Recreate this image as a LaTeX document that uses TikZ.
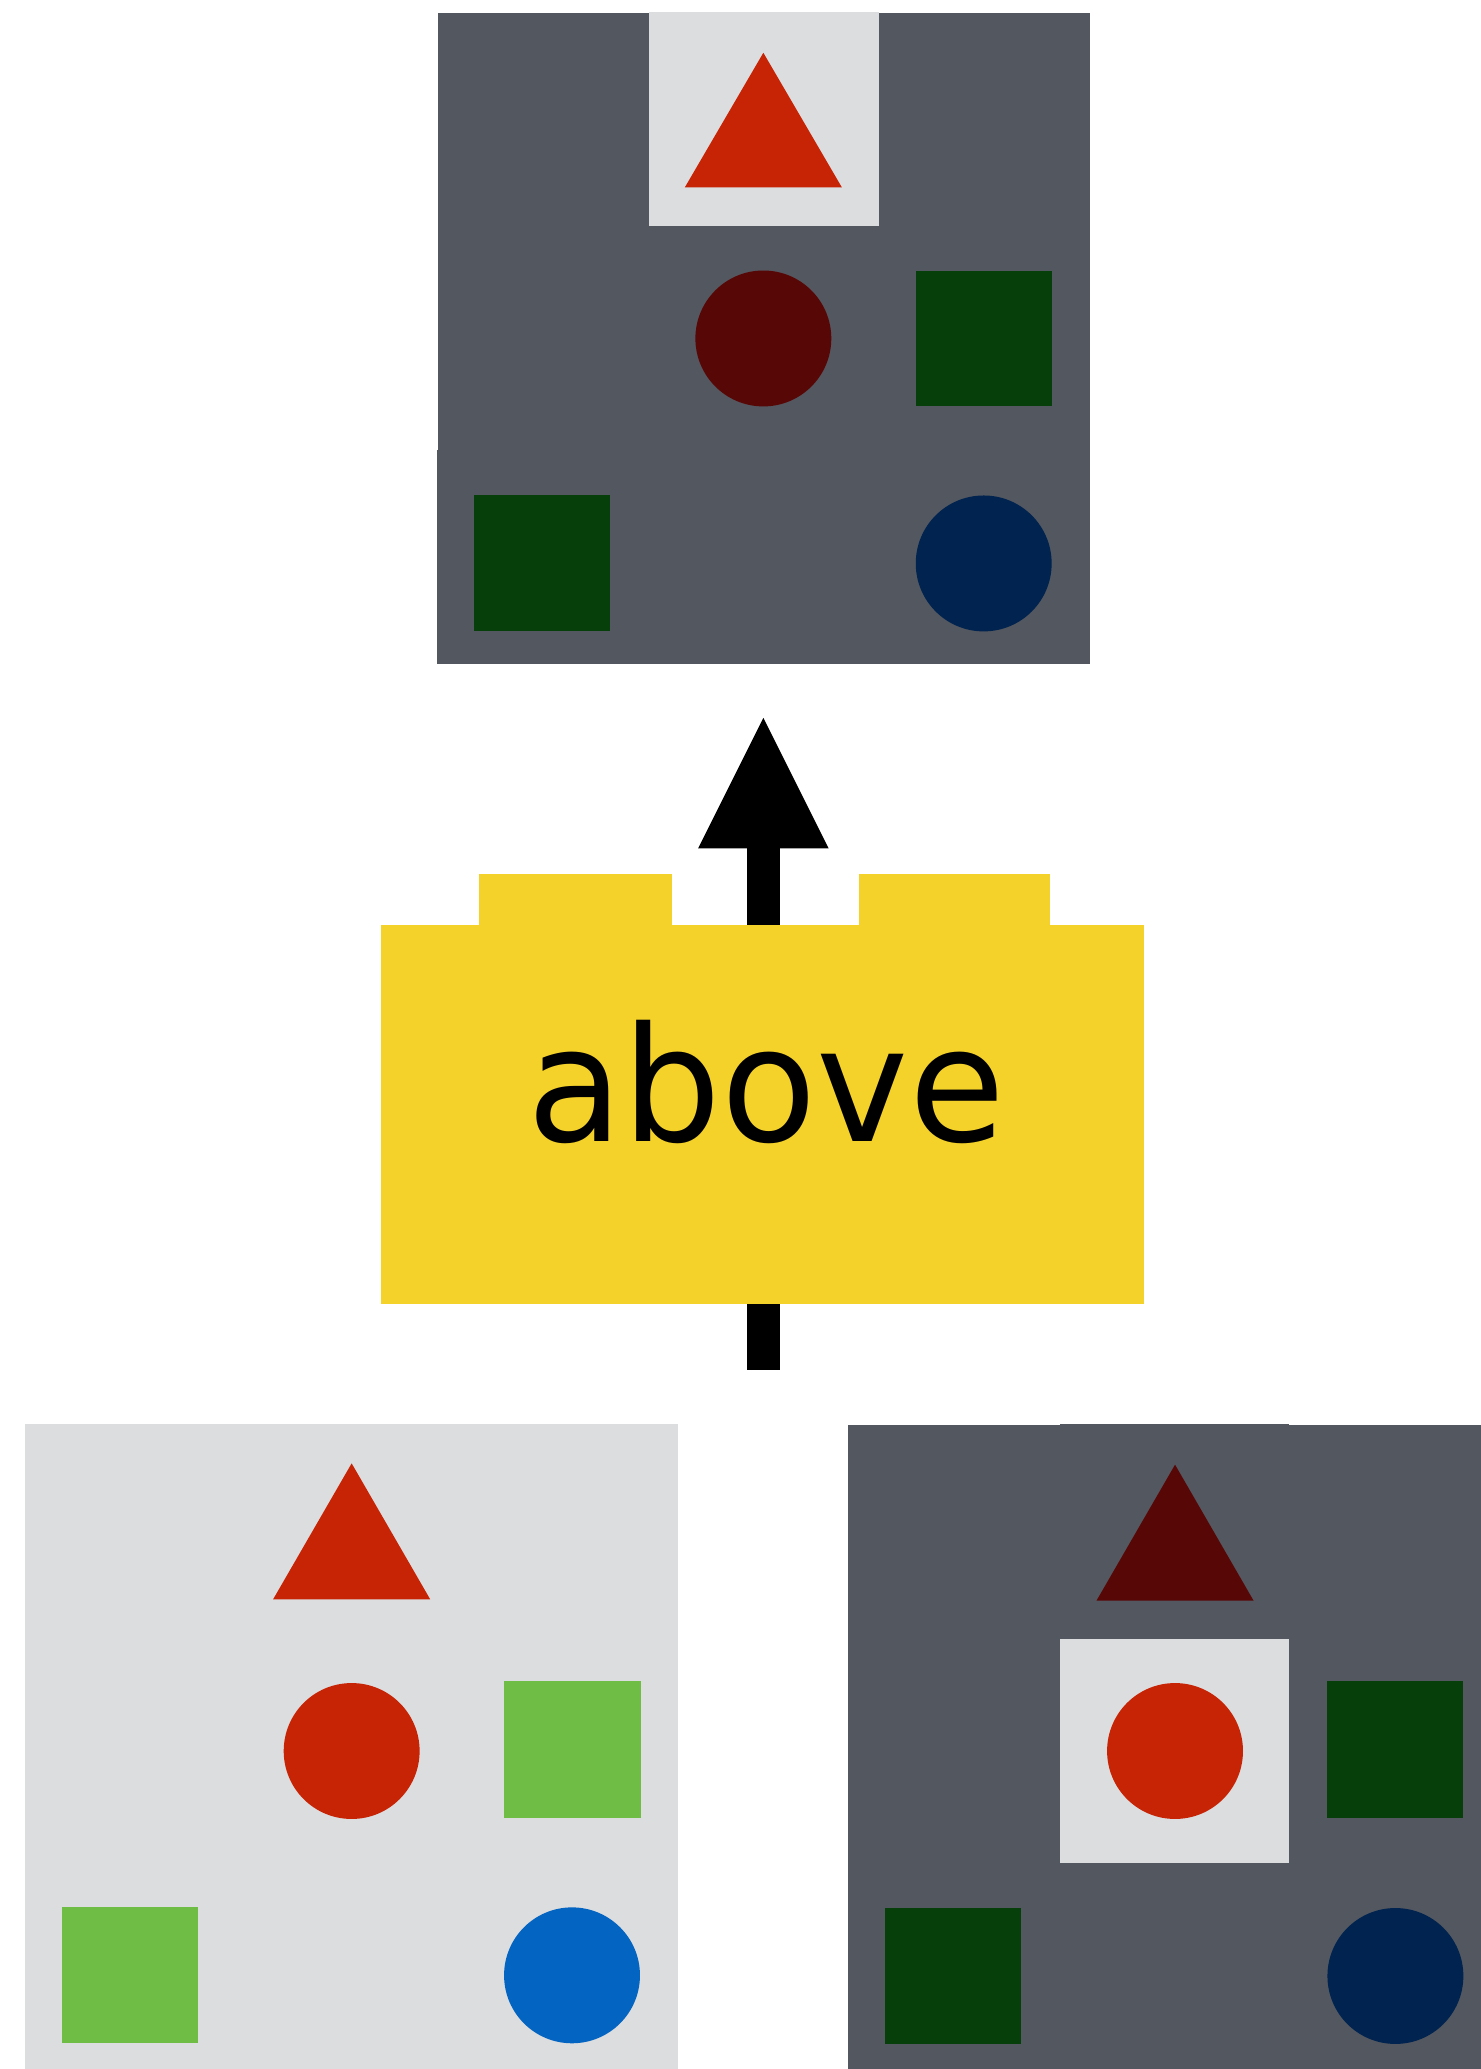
\documentclass[tikz,border=0pt]{standalone}
\usepackage{fontspec}
\usepackage{graphicx}
\newfontfamily\dejavu{DejaVu Sans}
\definecolor{darkpanel}{HTML}{53575F}
\definecolor{lightpanel}{HTML}{DCDDDF}
\definecolor{redshape}{HTML}{C72406}
\definecolor{darkred}{HTML}{580707}
\definecolor{darkgreen}{HTML}{063F0A}
\definecolor{navy}{HTML}{00234F}
\definecolor{lightgreen}{HTML}{6FBD44}
\definecolor{blueshape}{HTML}{0464C1}
\definecolor{yellowblock}{HTML}{F5D22A}
\begin{document}
\begin{tikzpicture}[x=0.5pt,y=-0.5pt,
  dpanel/.style={fill=darkpanel},
  lpanel/.style={fill=lightpanel},
  labeltext/.style={font=\dejavu\fontsize{60.5}{70}\selectfont, text=black, inner sep=0pt, anchor=base}]
\useasboundingbox[fill=white] (0,0) rectangle (1122,1568);

% ---------- top panel ----------
\fill[dpanel] (332,9.5) rectangle (826,341);
\fill[dpanel] (331,341) rectangle (826,503);
\fill[lpanel] (492,9) rectangle (666,171);
\fill[redshape] (578.5,40) -- (638,142) -- (519,142) -- cycle;
\fill[darkred] (578.5,256.5) circle (51.5);
\fill[darkgreen] (694,205) rectangle (797,308);
\fill[darkgreen] (359,375) rectangle (462,478);
\fill[navy] (745.5,427) circle (51.5);
\coordinate (toppanel) at (578.5,503);

% ---------- arrow ----------
\coordinate (tail) at (578.5,1038);
\coordinate (headbase) at (578.5,643);
\coordinate (tip) at (578.5,544);
\draw[line width=12.5pt] (tail) -- (headbase);
\fill (tip) -- ([xshift=24.75pt]headbase) -- ([xshift=-24.75pt]headbase) -- cycle;

% ---------- yellow block ----------
\fill[yellowblock] (289,701) rectangle (867,988);
\fill[yellowblock] (363,662) rectangle (509,702);
\fill[yellowblock] (651,662) rectangle (795.5,702);
\node[labeltext] (lbl) at (580.5,865) {\scalebox{0.975}[1]{above}};

% ---------- bottom left panel ----------
\fill[lpanel] (19,1079) rectangle (514,1568);
\fill[redshape] (266.5,1109) -- (326,1212) -- (207,1212) -- cycle;
\fill[redshape] (266.5,1327) circle (51.5);
\fill[lightgreen] (382,1274) rectangle (486,1378);
\fill[lightgreen] (47,1445) rectangle (150,1548);
\fill[blueshape] (433.5,1497) circle (51.5);

% ---------- bottom right panel ----------
\fill[dpanel] (643,1080) rectangle (1122,1568);
\fill[dpanel] (803,1079) rectangle (977,1081);
\fill[lpanel] (803,1242) rectangle (977,1412);
\fill[darkred] (890.5,1110) -- (950,1213) -- (831,1213) -- cycle;
\fill[redshape] (890.5,1327) circle (51.5);
\fill[darkgreen] (1006,1274) rectangle (1109,1378);
\fill[darkgreen] (671,1446) rectangle (774,1549);
\fill[navy] (1057.5,1497.5) circle (51.5);
\end{tikzpicture}
\end{document}
